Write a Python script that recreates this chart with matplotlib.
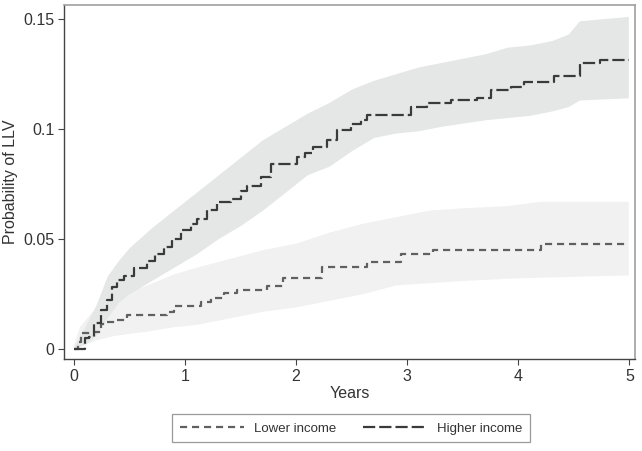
import matplotlib
matplotlib.use("Agg")
import matplotlib.pyplot as plt

plt.rcParams['font.family'] = ['Liberation Sans', 'DejaVu Sans']

# Kaplan-Meier style step curves: (years, probability)
hi_t = [0.0, 0.10, 0.135, 0.18, 0.24, 0.30, 0.34, 0.39, 0.45, 0.54, 0.66, 0.73,
        0.81, 0.88, 0.96, 1.05, 1.11, 1.20, 1.29, 1.41, 1.50, 1.56, 1.68, 1.77,
        2.01, 2.08, 2.15, 2.28, 2.37, 2.49, 2.58, 2.64, 3.03, 3.18, 3.39, 3.63,
        3.75, 3.93, 4.05, 4.32, 4.56, 4.74, 5.0]
hi_p = [0.0, 0.005, 0.0055, 0.0117, 0.0176, 0.022, 0.028, 0.031, 0.033, 0.0367,
        0.040, 0.043, 0.046, 0.050, 0.054, 0.0565, 0.059, 0.063, 0.0667, 0.068,
        0.0715, 0.074, 0.078, 0.0838, 0.087, 0.089, 0.0917, 0.095, 0.0994, 0.102,
        0.104, 0.106, 0.110, 0.1117, 0.113, 0.114, 0.1176, 0.119, 0.121, 0.124,
        0.130, 0.131, 0.131]

lo_t = [0.0, 0.04, 0.06, 0.15, 0.24, 0.30, 0.37, 0.48, 0.84, 0.90, 1.14, 1.23,
        1.35, 1.47, 1.74, 1.88, 2.23, 2.64, 2.94, 3.23, 4.20, 5.0]
lo_p = [0.0, 0.003, 0.007, 0.0077, 0.011, 0.0123, 0.013, 0.0153, 0.0168, 0.0194,
        0.0214, 0.023, 0.0253, 0.0268, 0.0285, 0.032, 0.0373, 0.0393, 0.043,
        0.0449, 0.0474, 0.0474]

# confidence bands
hi_ci_t = [0.0, 0.1, 0.2, 0.3, 0.4, 0.5, 0.7, 0.9, 1.1, 1.3, 1.5, 1.7, 1.9, 2.1,
           2.3, 2.5, 2.7, 2.9, 3.1, 3.3, 3.5, 3.7, 3.9, 4.1, 4.3, 4.45, 4.55, 4.99]
hi_ci_lo = [0.0, 0.002, 0.006, 0.014, 0.021, 0.025, 0.031, 0.037, 0.043, 0.050,
            0.056, 0.063, 0.071, 0.079, 0.083, 0.090, 0.096, 0.098, 0.099, 0.101,
            0.1025, 0.104, 0.105, 0.106, 0.108, 0.110, 0.113, 0.114]
hi_ci_hi = [0.001, 0.010, 0.020, 0.033, 0.040, 0.046, 0.055, 0.063, 0.071, 0.079,
            0.087, 0.095, 0.101, 0.107, 0.112, 0.118, 0.122, 0.125, 0.128, 0.130,
            0.132, 0.134, 0.137, 0.138, 0.140, 0.143, 0.149, 0.151]

lo_ci_t = [0.0, 0.05, 0.2, 0.36, 0.5, 0.66, 0.9, 1.1, 1.4, 1.7, 2.0, 2.3, 2.6,
           2.9, 3.2, 3.5, 3.9, 4.2, 4.99]
lo_ci_lo = [0.0, 0.001, 0.004, 0.006, 0.007, 0.008, 0.010, 0.011, 0.014, 0.017,
            0.019, 0.022, 0.025, 0.029, 0.030, 0.031, 0.032, 0.0325, 0.0335]
lo_ci_hi = [0.002, 0.010, 0.019, 0.023, 0.026, 0.029, 0.034, 0.037, 0.041, 0.045,
            0.048, 0.053, 0.057, 0.060, 0.063, 0.064, 0.065, 0.067, 0.067]

fig = plt.figure(figsize=(6.42, 4.51), dpi=100)
ax = fig.add_axes([0.100, 0.204, 0.889, 0.786])

ax.fill_between(lo_ci_t, lo_ci_lo, lo_ci_hi, color='#f1f1f1', lw=0)
ax.fill_between(hi_ci_t, hi_ci_lo, hi_ci_hi, color='#e5e7e7', lw=0)

ax.step(lo_t, lo_p, where='post', color='#606060', lw=1.6,
        dashes=(3.2, 2.2), label='Lower income')
ax.step(hi_t, hi_p, where='post', color='#3a3a3a', lw=1.6,
        dashes=(5.5, 1.8), label='Higher income')

ax.set_xlim(-0.087, 5.05)
ax.set_ylim(-0.0047, 0.1564)
ax.set_xticks([0, 1, 2, 3, 4, 5])
ax.set_xticklabels(['0', '1', '2', '3', '4', '5'])
ax.set_yticks([0, 0.05, 0.1, 0.15])
ax.set_yticklabels(['0', '0.05', '0.1', '0.15'])
ax.tick_params(direction='out', length=4, width=0.8, color='#444444',
               labelsize=11.5, labelcolor='#333333', pad=3)

for side in ['left', 'bottom']:
    ax.spines[side].set_color('#444444')
    ax.spines[side].set_linewidth(1.0)
for side in ['top', 'right']:
    ax.spines[side].set_color('#a0a0a0')
    ax.spines[side].set_linewidth(1.2)

ax.set_xlabel('Years', fontsize=11.5, color='#333333', labelpad=2)
ax.set_ylabel('Probability of LLV', fontsize=11.5, color='#333333', labelpad=4)

leg = fig.legend(loc='center', bbox_to_anchor=(0.547, 0.05), ncol=2,
                 fontsize=9.5, handlelength=4.8, columnspacing=2.0,
                 handletextpad=0.8, frameon=True, fancybox=False,
                 borderpad=0.6, labelcolor='#333333')
leg.get_frame().set_edgecolor('#808080')
leg.get_frame().set_linewidth(0.9)

fig.savefig('out.png', dpi=100)
